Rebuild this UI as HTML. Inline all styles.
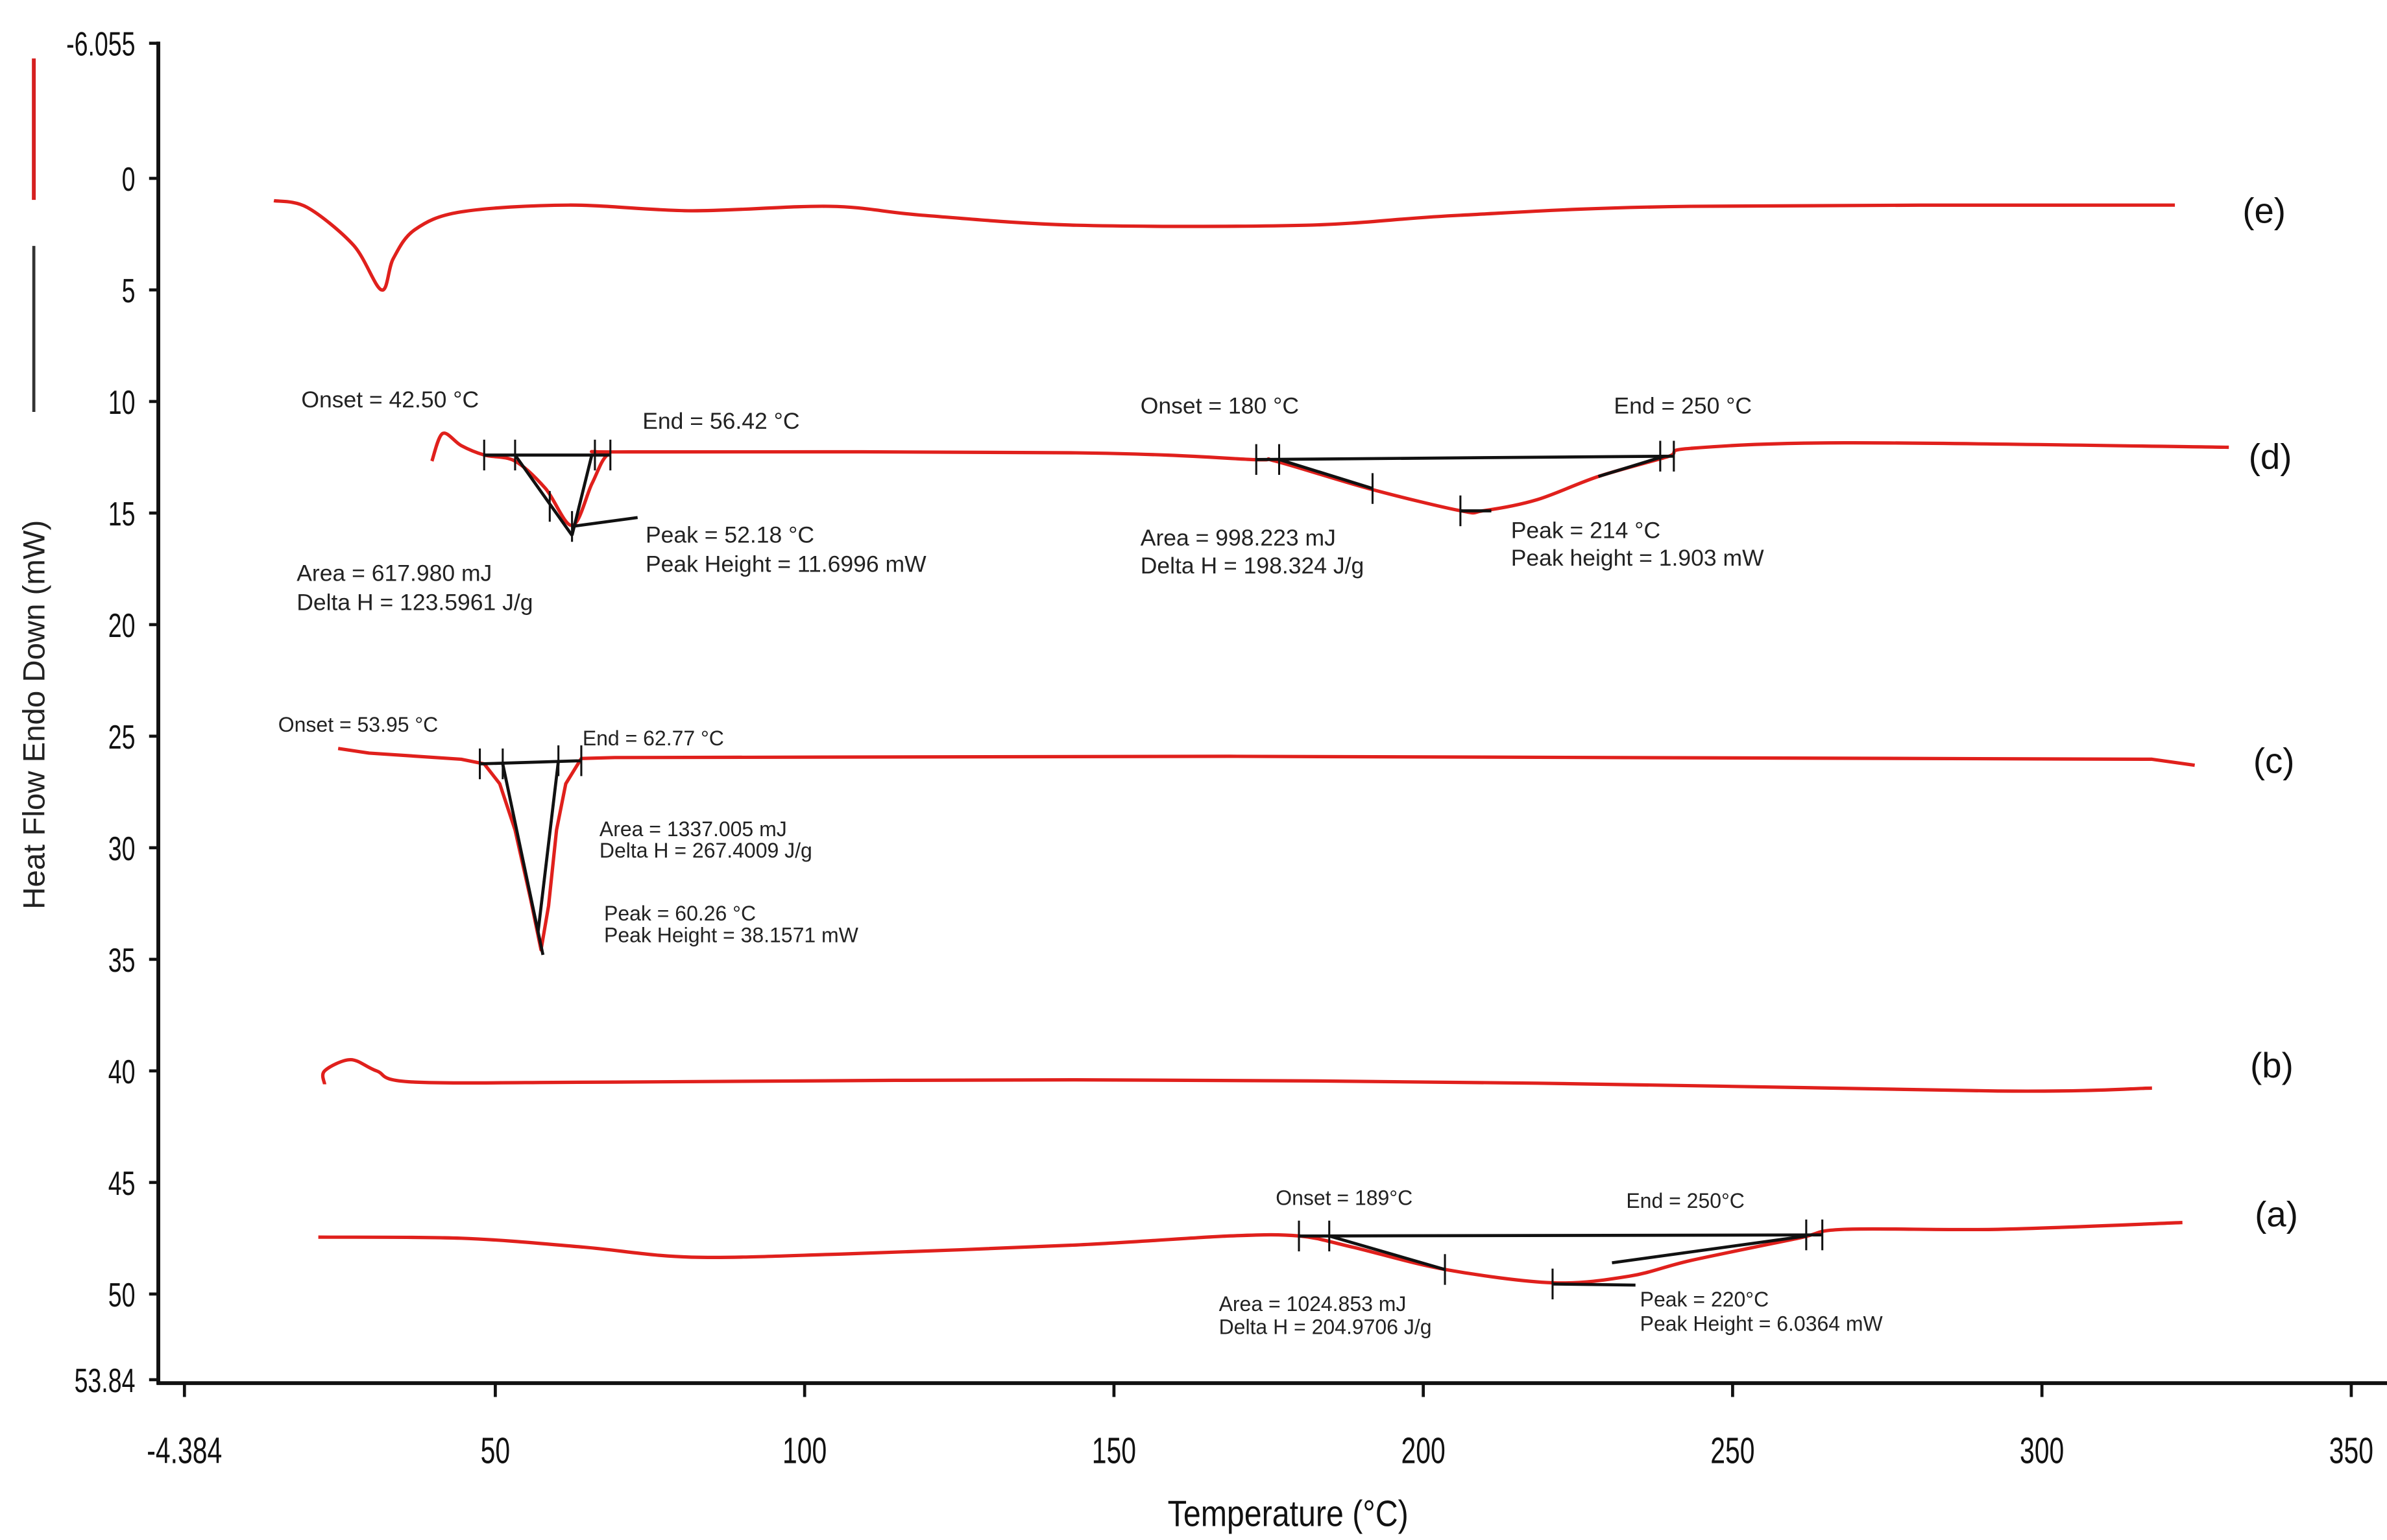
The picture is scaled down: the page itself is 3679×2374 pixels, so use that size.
<!DOCTYPE html>
<html><head><meta charset="utf-8"><style>
html,body{margin:0;padding:0;background:#fff;}
svg{display:block;}
.t{font-family:"Liberation Sans",sans-serif;fill:#222;}
.n{font-family:"Liberation Sans Narrow","Liberation Sans",sans-serif;fill:#111;}
</style></head><body>
<svg id="chart" width="3679" height="2374" viewBox="0 0 1553 1002" xmlns="http://www.w3.org/2000/svg">
<line x1="22" y1="38" x2="22" y2="130" stroke="#d62020" stroke-width="2.5"/>
<line x1="22" y1="160" x2="22" y2="268" stroke="#333" stroke-width="2"/>
<text class="t" font-size="20" transform="translate(29,465) rotate(-90)" text-anchor="middle" fill="#333">Heat Flow Endo Down (mW)</text>
<text class="n" font-size="24" x="838" y="993" text-anchor="middle" transform="translate(838,0) scale(0.85,1) translate(-838,0)">Temperature (°C)</text>
<line x1="103" y1="27" x2="103" y2="901" stroke="#111" stroke-width="2.5"/>
<line x1="102" y1="900" x2="1553" y2="900" stroke="#111" stroke-width="2.5"/>
<g id="yt"></g><g id="xt"></g><g id="curves"></g><g id="ann"></g>
<g class="t" font-size="15">
<text x="196" y="265">Onset = 42.50 °C</text>
<text x="418" y="279">End = 56.42 °C</text>
<text x="420" y="353">Peak = 52.18 °C</text>
<text x="420" y="372">Peak Height = 11.6996 mW</text>
<text x="193" y="378">Area = 617.980 mJ</text>
<text x="193" y="397">Delta H = 123.5961 J/g</text>
<text x="742" y="269">Onset = 180 °C</text>
<text x="1050" y="269">End = 250 °C</text>
<text x="742" y="355">Area = 998.223 mJ</text>
<text x="742" y="373">Delta H = 198.324 J/g</text>
<text x="983" y="350">Peak = 214 °C</text>
<text x="983" y="368">Peak height = 1.903 mW</text>
</g>
<g class="t" font-size="13.5">
<text x="181" y="476">Onset = 53.95 °C</text>
<text x="379" y="485">End = 62.77 °C</text>
<text x="390" y="544">Area = 1337.005 mJ</text>
<text x="390" y="558">Delta H = 267.4009 J/g</text>
<text x="393" y="599">Peak = 60.26 °C</text>
<text x="393" y="613">Peak Height = 38.1571 mW</text>
</g>
<g class="t" font-size="13.5">
<text x="830" y="784">Onset =   189°C</text>
<text x="1058" y="786">End =  250°C</text>
<text x="793" y="853">Area = 1024.853 mJ</text>
<text x="793" y="868">Delta H = 204.9706 J/g</text>
<text x="1067" y="850">Peak =   220°C</text>
<text x="1067" y="866">Peak Height = 6.0364 mW</text>
</g>
<g font-family="Liberation Sans, sans-serif" font-size="23" fill="#111">
<text x="1459" y="145">(e)</text>
<text x="1463" y="305">(d)</text>
<text x="1466" y="503">(c)</text>
<text x="1464" y="701">(b)</text>
<text x="1467" y="798">(a)</text>
</g>
</svg>
<script>
const yTickValues=[-6.055,0,5,10,15,20,25,30,35,40,45,50,53.84];
const yTickLabels=["-6.055","0","5","10","15","20","25","30","35","40","45","50","53.84"];
const xTickValues=[0,50,100,150,200,250,300,350];
const xTickLabels=["-4.384","50","100","150","200","250","300","350"];
const tempE=[14.2,19.6,27.1,31.6,33.5,37.0,44.5,61.9,81.7,104.1,119.0,143.9,181.1,206.0,243.2,321.5];
const flowE=[1.0,1.3,3.0,5.0,3.6,2.3,1.5,1.2,1.45,1.25,1.65,2.1,2.1,1.65,1.25,1.2];
const tempD=[39.75,41.5,44.5,48.2,53.2,58.1,62.4,65.6,68.1,71.8,143.9,172.4,176.1,191.1,206.0,209.7,218.4,228.3,239.5,243.2,268.1,330.2];
const flowD=[12.67,11.43,11.98,12.4,12.67,13.9,15.56,13.7,12.4,12.26,12.3,12.6,12.67,13.9,14.9,14.9,14.4,13.36,12.47,12.1,11.85,12.05];
const tempC=[24.6,29.6,44.5,48.2,50.7,53.2,55.7,57.4,58.6,59.9,61.4,63.9,69.3,168.7,317.8,324.7];
const flowC=[25.55,25.76,26.03,26.24,27.13,29.2,32.3,34.57,32.6,29.2,27.13,26.0,25.96,25.9,26.03,26.3];
const tempB=[22.4,22.4,26.6,30.8,37.0,69.3,143.9,218.4,292.9,317.8];
const flowB=[40.6,40.0,39.5,40.0,40.5,40.5,40.4,40.55,40.9,40.77];
const tempA=[21.4,44.5,64.3,81.7,106.6,143.9,168.7,179.9,188.6,203.5,220.9,233.3,243.2,260.6,268.1,292.9,322.7];
const flowA=[47.45,47.5,47.9,48.35,48.2,47.8,47.4,47.4,47.9,48.9,49.5,49.2,48.5,47.5,47.1,47.1,46.8];
const annLines=[[48.2,12.4,68.6,12.4],[53.2,12.4,62.4,16.0],[65.6,12.4,62.4,16.0],[62.4,15.6,73.0,15.2],
[173.0,12.6,240.5,12.45],[176.7,12.6,191.8,13.9],[206.0,14.9,211.0,14.9],[228.3,13.36,239.0,12.45],
[47.5,26.24,63.9,26.1],[51.2,26.24,57.7,34.8],[60.2,26.1,56.9,33.8],
[179.9,47.4,264.5,47.35],[184.8,47.4,203.5,48.9],[220.9,49.55,234.3,49.6],[230.5,48.6,261.9,47.4]];
const annTicks=[[48.2,12.4],[53.2,12.4],[66.1,12.4],[68.6,12.4],[58.8,14.7],[62.4,15.6],
[173.0,12.6],[176.7,12.6],[238.3,12.45],[240.5,12.45],[191.8,13.9],[206.0,14.9],
[47.5,26.24],[51.2,26.24],[60.2,26.1],[63.9,26.1],
[179.9,47.4],[184.8,47.4],[261.9,47.35],[264.5,47.35],[203.5,48.9],[220.9,49.55]];
const NS='http://www.w3.org/2000/svg';
function xs(t){return 121+t*4.025;}
function ys(v){return 116+v*14.52;}
function mk(tag,attrs,parent){const e=document.createElementNS(NS,tag);for(const k in attrs)e.setAttribute(k,attrs[k]);parent.appendChild(e);return e;}
function smoothPath(P){
 let d='M'+P[0][0].toFixed(1)+','+P[0][1].toFixed(1);
 for(let i=0;i<P.length-1;i++){
  const p0=P[Math.max(0,i-1)],p1=P[i],p2=P[i+1],p3=P[Math.min(P.length-1,i+2)];
  const k=0.16;
  const c1=[p1[0]+(p2[0]-p0[0])*k,p1[1]+(p2[1]-p0[1])*k];
  const c2=[p2[0]-(p3[0]-p1[0])*k,p2[1]-(p3[1]-p1[1])*k];
  d+=' C'+c1[0].toFixed(1)+','+c1[1].toFixed(1)+' '+c2[0].toFixed(1)+','+c2[1].toFixed(1)+' '+p2[0].toFixed(1)+','+p2[1].toFixed(1);
 }
 return d;
}
const yt=document.getElementById('yt');
yTickValues.forEach((v,i)=>{
 const l=mk('line',{x1:97,x2:103,y1:ys(v),y2:ys(v),stroke:'#111','stroke-width':2},yt);
 
 
 const t=mk('text',{x:0,y:0,'text-anchor':'end','font-size':22,class:'n',transform:`translate(88,${ys(v)+8}) scale(0.72,1)`},yt);
 t.textContent=yTickLabels[i];
 
 
});
const xt=document.getElementById('xt');
xTickValues.forEach((v,i)=>{
 const x=xs(v)-(i===0?1:0);
 const l=mk('line',{x1:x,x2:x,y1:900,y2:909,stroke:'#111','stroke-width':2},xt);
 
 
 const t=mk('text',{x:0,y:0,'text-anchor':'middle','font-size':24,class:'n',transform:`translate(${x},952) scale(0.72,1)`},xt);
 t.textContent=xTickLabels[i];
 
 
});
const cv=document.getElementById('curves');
[['e',tempE,flowE,true],['d',tempD,flowD,true],['c',tempC,flowC,false],['b',tempB,flowB,true],['a',tempA,flowA,true]].forEach(([n,T,V,sm])=>{
 const P=T.map((t,i)=>[xs(t),ys(V[i])]);
 const d=sm?smoothPath(P):P.map((p,i)=>(i?'L':'M')+p[0].toFixed(1)+','+p[1].toFixed(1)).join(' ');
 const p=mk('path',{d:d,fill:'none',stroke:'#e0201c','stroke-width':2.2,'stroke-linejoin':'round'},cv);
 
 
});
const an=document.getElementById('ann');
annLines.forEach(a=>{
 const l=mk('line',{x1:xs(a[0]),y1:ys(a[1]),x2:xs(a[2]),y2:ys(a[3]),stroke:'#111','stroke-width':2},an);
 
 
});
annTicks.forEach(a=>{
 const l=mk('line',{x1:xs(a[0]),y1:ys(a[1])-10,x2:xs(a[0]),y2:ys(a[1])+10,stroke:'#111','stroke-width':1.3},an);
 
 
});
</script>
</body></html>
